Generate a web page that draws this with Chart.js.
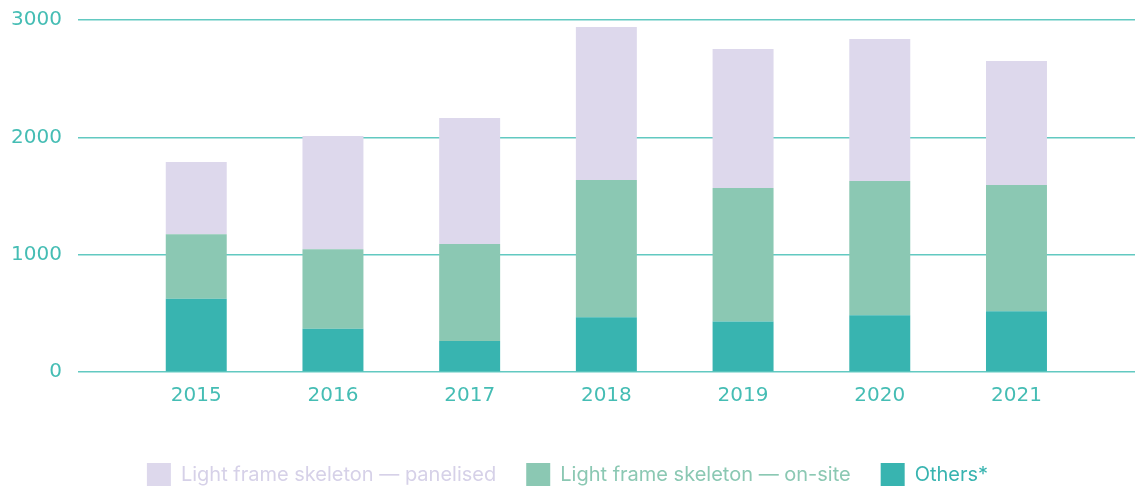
<!DOCTYPE html>
<html>
<head>
<meta charset="utf-8">
<script src="https://cdn.jsdelivr.net/npm/chart.js@4/dist/chart.umd.min.js"></script>
<style>
  html, body { margin: 0; padding: 0; background: #ffffff; overflow: hidden; }
  #wrap { position: relative; width: 1135px; height: 505px; margin-top: -8px; }
</style>
</head>
<body>
<div id="wrap"><canvas id="c"></canvas></div>
<script>
const years = [2015, 2016, 2017, 2018, 2019, 2020, 2021];
const others = [624, 368, 265, 466, 431, 483, 517];
const onSite = [551, 679, 825, 1171, 1137, 1145, 1077];
const panelised = [614, 964, 1075, 1304, 1185, 1211, 1057];
const yTicks = [0, 1000, 2000, 3000];
const seriesNames = ['Others*', 'Light frame skeleton \u2014 on-site', 'Light frame skeleton \u2014 panelised'];
const seriesColors = ['#38b4b0', '#8bc8b3', '#ddd8ec'];
const legendTextColors = ['#38b4b0', '#8bc8b3', '#d6d1e8'];

const axisColor = '#45bdb4';
const gridColor = '#62c9c1';
const FONT = 'Inter, "DejaVu Sans", sans-serif';
const TICK_FONT = '"DejaVu Sans", sans-serif';

const toPoints = arr => arr.map((v, i) => ({ x: years[i], y: v }));
const seriesValues = [others, onSite, panelised];

const datasets = seriesValues.map((vals, i) => ({
  label: seriesNames[i],
  data: toPoints(vals),
  backgroundColor: seriesColors[i],
  borderWidth: 0,
  barPercentage: 0.446,
  categoryPercentage: 1.0
}));

new Chart(document.getElementById('c'), {
  type: 'bar',
  data: { datasets },
  options: {
    responsive: true,
    maintainAspectRatio: false,
    animation: false,
    layout: { padding: { top: 12, left: 0, right: 0, bottom: 0 } },
    plugins: {
      tooltip: { enabled: false },
      legend: {
        position: 'bottom',
        reverse: true,
        labels: {
          boxWidth: 24,
          boxHeight: 24,
          padding: 30,
          font: { family: FONT, size: 20 },
          generateLabels: (chart) => chart.data.datasets.map((ds, i) => ({
            text: ds.label,
            fillStyle: seriesColors[i],
            strokeStyle: seriesColors[i],
            lineWidth: 0,
            fontColor: legendTextColors[i],
            hidden: false,
            datasetIndex: i
          }))
        }
      }
    },
    scales: {
      x: {
        type: 'linear',
        stacked: true,
        offset: false,
        min: 2014.135,
        max: 2021.867,
        grid: { display: false, drawTicks: false, offset: false },
        border: { display: false },
        afterBuildTicks: (scale) => { scale.ticks = years.map(v => ({ value: v })); },
        afterFit: (scale) => { scale.height = 61; },
        ticks: {
          autoSkip: false,
          maxRotation: 0,
          padding: 12,
          color: axisColor,
          font: { family: TICK_FONT, size: 20 },
          callback: (v) => String(v)
        }
      },
      y: {
        stacked: true,
        min: 0,
        max: 3000,
        afterBuildTicks: (scale) => { scale.ticks = yTicks.map(v => ({ value: v })); },
        afterFit: (scale) => { scale.width = 78; },
        grid: { color: gridColor, lineWidth: 1.6, drawTicks: false },
        border: { display: false },
        ticks: {
          padding: 16,
          color: axisColor,
          font: { family: TICK_FONT, size: 20 },
          callback: (v) => String(v)
        }
      }
    }
  }
});
</script>
</body>
</html>
